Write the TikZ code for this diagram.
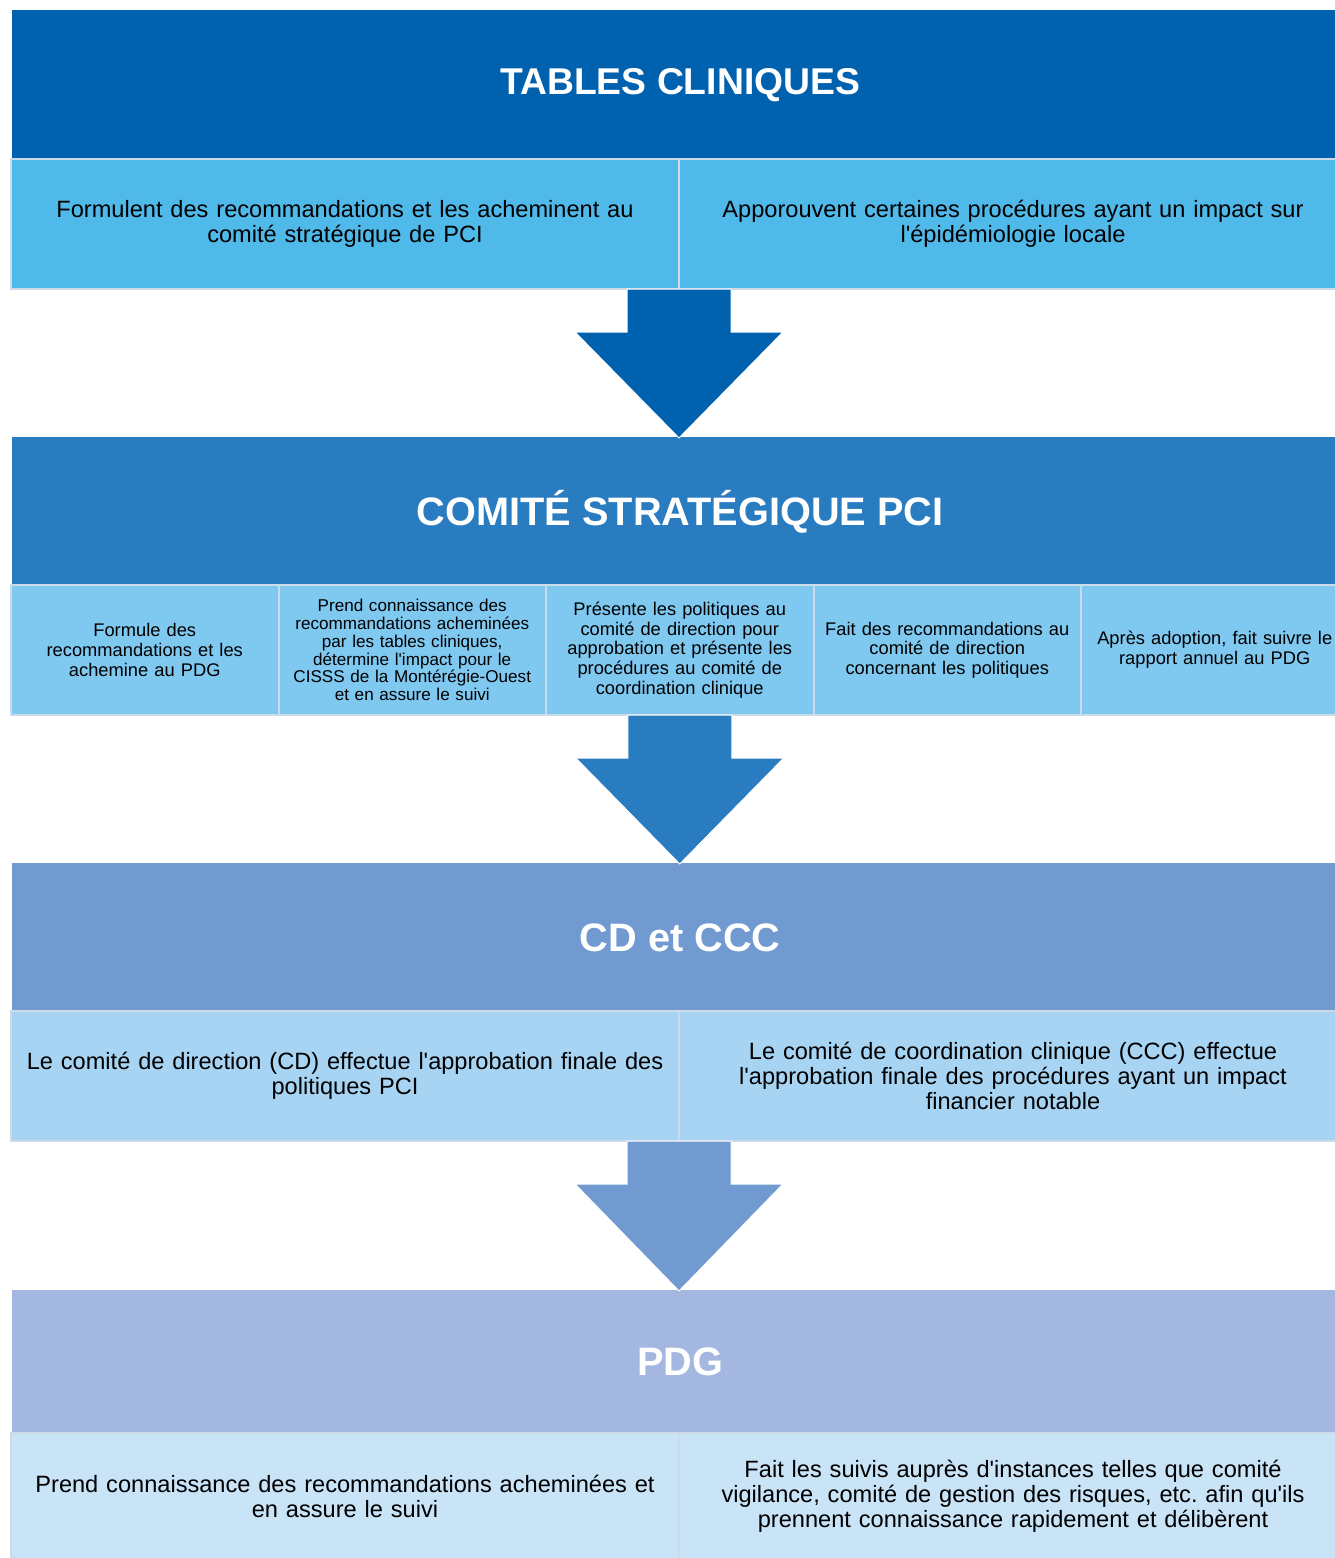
\documentclass[tikz,border=0pt]{standalone}
\usepackage{fontspec}
\setmainfont{Liberation Sans}[Ligatures=TeXOff]
\usetikzlibrary{calc}
\definecolor{bandA}{RGB}{0,97,175}
\definecolor{subA}{RGB}{79,185,233}
\definecolor{bandB}{RGB}{42,124,192}
\definecolor{subB}{RGB}{127,200,240}
\definecolor{bandC}{RGB}{113,154,209}
\definecolor{subC}{RGB}{167,212,242}
\definecolor{bandD}{RGB}{163,183,225}
\definecolor{subD}{RGB}{201,227,247}
\definecolor{edge}{RGB}{205,218,232}
\frenchspacing
% big down arrow: top centre, band below, colour
\newcommand{\flowarrow}[3]{
  \fill[#3,draw=white,line width=1pt] ($(#1)+(-52,0)$) -- ($(#1)+(52,0)$) -- ($(#1)+(52,43)$)
    -- ($(#1)+(104,43)$) -- ($(#1|-#2.north)+(0,1)$) -- ($(#1)+(-104,43)$) -- ($(#1)+(-52,43)$) -- cycle;
}
\begin{document}
\begin{tikzpicture}[x=1pt,y=-1pt]
\tikzset{band/.style={anchor=north west,inner sep=0pt,minimum width=1336pt,
      text=white,font=\fontsize{39.7}{46}\selectfont\bfseries},
    sub/.style={anchor=north west,draw=edge,line width=2pt,inner sep=0pt,outer sep=0pt,minimum height=130pt,
      align=center,font=\fontsize{23.6}{25}\selectfont},
    half/.style={sub,minimum width=668pt,text width=660pt},
    fifth/.style={sub,minimum width=267.5pt,text width=264pt,font=\fontsize{18.3}{19.7}\selectfont}}
\useasboundingbox (0,0) rectangle (1335,1558);
\clip (0,0) rectangle (1335,1558);

% tables cliniques
\node[band,fill=bandA,minimum height=149pt,font=\fontsize{37.3}{44}\selectfont\bfseries] (t1) at (12,10) {TABLES CLINIQUES};
\node[half,fill=subA] (s1a) at (11,159) {Formulent des recommandations et les acheminent au\\comité stratégique de PCI};
\node[half,fill=subA] (s1b) at (679,159) {Apporouvent certaines procédures ayant un impact sur\\l'épidémiologie locale};

% comite strategique
\node[band,fill=bandB,minimum height=149pt] (t2) at (12,437) {COMITÉ STRATÉGIQUE PCI};
\node[fifth,fill=subB] (s2a) at (11,585) {Formule des\\recommandations et les\\achemine au PDG};
\node[fifth,fill=subB,font=\fontsize{17.1}{17.8}\selectfont] (s2b) at (278.5,585) {Prend connaissance des\\recommandations acheminées\\par les tables cliniques,\\détermine l'impact pour le\\CISSS de la Montérégie-Ouest\\et en assure le suivi};
\node[fifth,fill=subB] (s2c) at (546,585) {Présente les politiques au\\comité de direction pour\\approbation et présente les\\procédures au comité de\\coordination clinique};
\node[fifth,fill=subB] (s2d) at (813.5,585) {Fait des recommandations au\\comité de direction\\concernant les politiques};
\node[fifth,fill=subB] (s2e) at (1081,585) {Après adoption, fait suivre le\\rapport annuel au PDG};

% CD et CCC
\node[band,fill=bandC,minimum height=149pt] (t3) at (12,863) {CD et CCC};
\node[half,fill=subC] (s3a) at (11,1011) {Le comité de direction (CD) effectue l'approbation finale des\\politiques PCI};
\node[half,fill=subC] (s3b) at (679,1011) {Le comité de coordination clinique (CCC) effectue\\l'approbation finale des procédures ayant un impact\\financier notable};

% PDG
\node[band,fill=bandD,minimum height=144pt] (t4) at (12,1290) {PDG};
\node[half,fill=subD,minimum height=126pt] (s4a) at (11,1433) {Prend connaissance des recommandations acheminées et\\en assure le suivi};
\node[half,fill=subD,minimum height=126pt] (s4b) at (679,1433) {Fait les suivis auprès d'instances telles que comité\\vigilance, comité de gestion des risques, etc. afin qu'ils\\prennent connaissance rapidement et délibèrent};

\flowarrow{s1a.south east}{t2}{bandA}
\flowarrow{s2c.south}{t3}{bandB}
\flowarrow{s3a.south east}{t4}{bandC}
\end{tikzpicture}
\end{document}
